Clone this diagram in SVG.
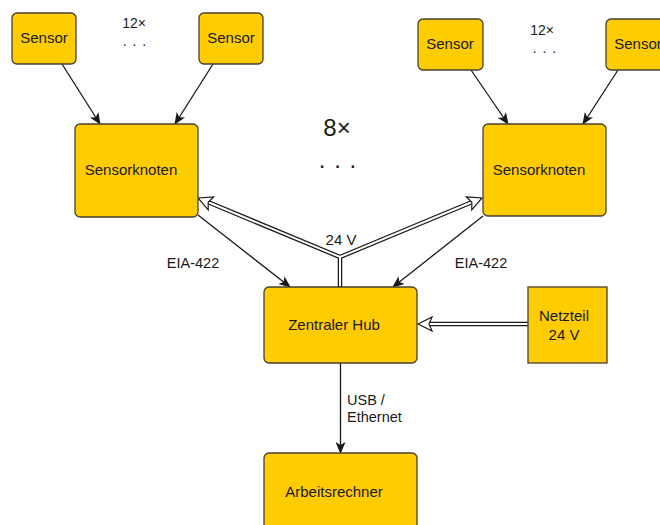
<svg xmlns="http://www.w3.org/2000/svg" width="660" height="525" viewBox="0 0 660 525">
<style>
.box{fill:#FFCC00;stroke:#4a4030;stroke-width:1.3}
.t{font-family:"Liberation Sans",Arial,sans-serif;font-size:15px;fill:#1a1a1a;text-anchor:middle}
.lbl{font-family:"Liberation Sans",Arial,sans-serif;font-size:14.5px;fill:#1a1a1a}
.note{font-family:"Liberation Sans",Arial,sans-serif;fill:#1a1a1a;text-anchor:middle}
.ln{fill:none;stroke:#1a1a1a;stroke-width:1.3}
.dblo{fill:none;stroke:#1a1a1a;stroke-width:4.5}
.dbli{fill:none;stroke:#ffffff;stroke-width:2}
</style>
<defs>
<marker id="ah" markerUnits="userSpaceOnUse" markerWidth="12" markerHeight="10" viewBox="0 0 12 10" refX="11" refY="5" orient="auto">
<path d="M0,0 L12,5 L0,10 L3,5 Z" fill="#1a1a1a"/>
</marker>
<marker id="hollow" markerUnits="userSpaceOnUse" markerWidth="18" markerHeight="18" viewBox="0 0 18 18" refX="16" refY="9" orient="auto-start-reverse">
<path d="M2,2 L16,9 L2,16 L5,9 Z" fill="#ffffff" stroke="#1a1a1a" stroke-width="1.2" stroke-linejoin="miter"/>
</marker>
</defs>

<g id="connectors">
<line class="ln" x1="62" y1="64" x2="100" y2="124" marker-end="url(#ah)"/>
<line class="ln" x1="213" y1="64" x2="175" y2="124" marker-end="url(#ah)"/>
<line class="ln" x1="471" y1="70" x2="508" y2="124" marker-end="url(#ah)"/>
<line class="ln" x1="618" y1="70" x2="583" y2="124" marker-end="url(#ah)"/>
<line class="ln" x1="198" y1="215" x2="290" y2="287" marker-end="url(#ah)"/>
<line class="ln" x1="483" y1="216" x2="393" y2="287" marker-end="url(#ah)"/>
<line class="ln" x1="340.5" y1="363" x2="340.5" y2="453" marker-end="url(#ah)"/>
<path class="dblo" d="M203,200 L340,257 L477,200 M340,257 L340,287"/>
<path class="dbli" d="M203,200 L340,257 L477,200 M340,256 L340,286"/>
<path d="M198,198 L340,257" fill="none" stroke="none" marker-start="url(#hollow)"/>
<path d="M340,257 L482,198" fill="none" stroke="none" marker-end="url(#hollow)"/>
<line class="dblo" x1="528" y1="324" x2="426" y2="324"/>
<line class="dbli" x1="529" y1="324" x2="426" y2="324"/>
<line x1="528" y1="324" x2="418" y2="324" stroke="none" marker-end="url(#hollow)"/>
<text class="lbl" x="193" y="268" text-anchor="middle">EIA-422</text>
<text class="lbl" x="481" y="268" text-anchor="middle">EIA-422</text>
<text class="note" x="341" y="245" font-size="15">24 V</text>
<text class="lbl" x="347" y="405">USB /</text>
<text class="lbl" x="347" y="422">Ethernet</text>
</g>

<g id="sensor1"><rect class="box" x="12" y="13" width="64" height="51" rx="5"/><text class="t" x="44" y="43">Sensor</text></g>
<g id="sensor2"><rect class="box" x="199" y="13" width="64" height="51" rx="5"/><text class="t" x="231" y="43">Sensor</text></g>
<g id="sensor3"><rect class="box" x="418" y="19" width="65" height="51" rx="5"/><text class="t" x="450" y="49">Sensor</text></g>
<g id="sensor4"><rect class="box" x="606" y="19" width="65" height="51" rx="5"/><text class="t" x="638" y="49">Sensor</text></g>

<g id="note-left"><text class="note" x="134" y="28" font-size="14">12×</text><text class="note" x="135" y="46" font-size="14" letter-spacing="1">. . .</text></g>
<g id="note-right"><text class="note" x="542" y="35" font-size="14">12×</text><text class="note" x="545" y="53" font-size="14" letter-spacing="1">. . .</text></g>
<g id="note-center"><text class="note" x="337" y="136" font-size="24">8×</text><text class="note" x="338" y="168" font-size="24" letter-spacing="1">. . .</text></g>

<g id="sensorknoten-left"><rect class="box" x="75" y="124" width="123" height="93" rx="5"/><text class="t" x="131" y="175">Sensorknoten</text></g>
<g id="sensorknoten-right"><rect class="box" x="483" y="124" width="123" height="92" rx="5"/><text class="t" x="539" y="175">Sensorknoten</text></g>
<g id="hub"><rect class="box" x="264" y="287" width="153" height="76" rx="5"/><text class="t" x="334" y="330">Zentraler Hub</text></g>
<g id="netzteil"><rect class="box" x="528" y="287" width="79" height="76"/><text class="t" x="564" y="321">Netzteil</text><text class="t" x="564" y="340">24 V</text></g>
<g id="arbeitsrechner"><rect class="box" x="264" y="453" width="153" height="80" rx="5"/><text class="t" x="334" y="497">Arbeitsrechner</text></g>
</svg>
